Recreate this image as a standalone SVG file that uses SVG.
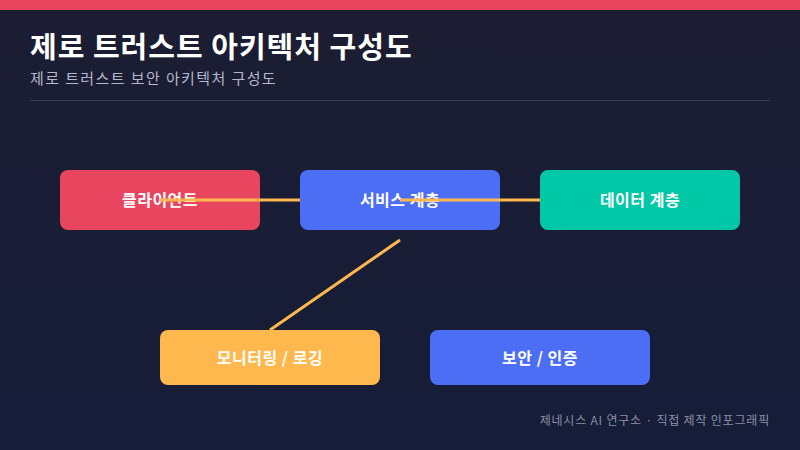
<svg xmlns="http://www.w3.org/2000/svg" width="800" height="450" viewBox="0 0 800 450">
<defs>
<linearGradient id="bg" x1="0" y1="0" x2="0" y2="1"><stop offset="0" stop-color="#1c1d32"/><stop offset="1" stop-color="#161d38"/></linearGradient>
<style>
text{font-family:"Noto Sans CJK KR","Noto Sans",sans-serif}
.lbl{fill:#fff;font-size:16px;font-weight:bold;text-anchor:middle;dominant-baseline:central;letter-spacing:0.5px}
.edge{stroke:#ffb84d;stroke-width:3;fill:none}
</style>
</defs>
<rect width="800" height="450" fill="url(#bg)"/>
<rect width="800" height="10" fill="#e8465f"/>
<text x="30" y="58" font-size="29" font-weight="bold" fill="#fff" letter-spacing="1">제로 트러스트 아키텍처 구성도</text>
<text x="30" y="84" font-size="15" fill="#b4b8cc" letter-spacing="1.4">제로 트러스트 보안 아키텍처 구성도</text>
<rect x="30" y="100" width="740" height="1" fill="#3b3e5e"/>
<g id="client"><rect x="60" y="170" width="200" height="60" rx="8" fill="#e8465f"/><text class="lbl" x="160" y="199">클라이언트</text></g>
<g id="service"><rect x="300" y="170" width="200" height="60" rx="8" fill="#4c6ef5"/><text class="lbl" x="400" y="199">서비스 계층</text></g>
<g id="data"><rect x="540" y="170" width="200" height="60" rx="8" fill="#00c7a5"/><text class="lbl" x="640" y="199">데이터 계층</text></g>
<g id="monitor"><rect x="160" y="330" width="220" height="55" rx="8" fill="#ffb84d"/><text class="lbl" x="270" y="357">모니터링 / 로깅</text></g>
<g id="security"><rect x="430" y="330" width="220" height="55" rx="8" fill="#4c6ef5"/><text class="lbl" x="540" y="357">보안 / 인증</text></g>
<g id="connectors">
<line class="edge" x1="160" y1="200" x2="300" y2="200"/>
<line class="edge" x1="400" y1="200" x2="540" y2="200"/>
<line class="edge" x1="400" y1="240" x2="270" y2="330"/>
</g>
<text x="770" y="425" font-size="12" fill="#8a8fa8" text-anchor="end" letter-spacing="0.8">제네시스 AI 연구소 · 직접 제작 인포그래픽</text>
</svg>
